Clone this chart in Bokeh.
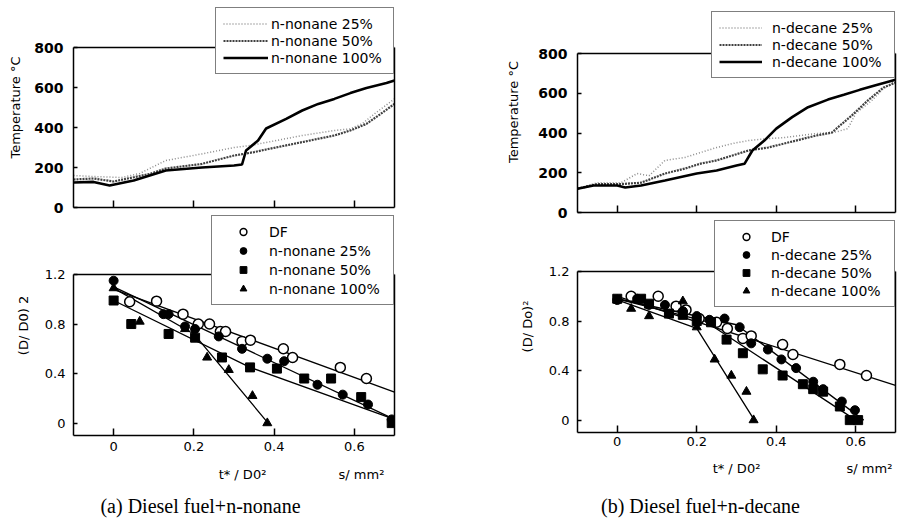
from bokeh.plotting import figure
from bokeh.models import (Legend, LegendItem, FixedTicker, NumeralTickFormatter, Label,
                          LinearAxis, Span, Range1d)
from bokeh.layouts import row, column
from bokeh.embed import file_html
from bokeh.resources import INLINE

# ---------------- data ----------------
# (a) temperature, n-nonane
nonane_25_x = [-0.10, -0.05, 0.02, 0.065, 0.13, 0.22, 0.30, 0.34, 0.38, 0.47, 0.55, 0.59, 0.62, 0.65, 0.70]
nonane_25_T = [160, 155, 150, 170, 235, 268, 300, 310, 325, 360, 385, 393, 420, 468, 543]
nonane_50_x = [-0.10, -0.05, 0.0, 0.09, 0.13, 0.22, 0.30, 0.35, 0.38, 0.47, 0.55, 0.59, 0.63, 0.66, 0.70]
nonane_50_T = [140, 145, 130, 168, 195, 218, 260, 277, 290, 327, 360, 385, 418, 460, 518]
nonane_100_x = [-0.10, -0.05, -0.01, 0.05, 0.13, 0.22, 0.30, 0.32, 0.33, 0.36, 0.38, 0.43, 0.47, 0.51, 0.55, 0.59, 0.63, 0.68, 0.70]
nonane_100_T = [125, 128, 110, 135, 185, 200, 210, 215, 285, 335, 395, 443, 485, 518, 543, 572, 598, 622, 635]

# (b) temperature, n-decane
decane_25_x = [-0.10, -0.05, 0.01, 0.05, 0.08, 0.12, 0.17, 0.21, 0.25, 0.29, 0.33, 0.38, 0.42, 0.46, 0.50, 0.55, 0.58, 0.60, 0.64, 0.67, 0.70]
decane_25_T = [120, 150, 150, 196, 185, 262, 277, 302, 327, 347, 362, 372, 377, 387, 397, 405, 422, 498, 563, 623, 663]
decane_50_x = [-0.10, -0.05, 0.01, 0.06, 0.12, 0.17, 0.21, 0.25, 0.29, 0.33, 0.38, 0.42, 0.46, 0.50, 0.54, 0.56, 0.59, 0.63, 0.67, 0.70]
decane_50_T = [120, 143, 143, 150, 196, 221, 246, 262, 287, 312, 327, 347, 367, 387, 402, 437, 488, 563, 629, 653]
decane_100_x = [-0.10, -0.06, 0.0, 0.02, 0.06, 0.12, 0.20, 0.25, 0.30, 0.32, 0.34, 0.37, 0.40, 0.44, 0.48, 0.53, 0.57, 0.61, 0.65, 0.70]
decane_100_T = [120, 136, 136, 126, 136, 161, 196, 211, 236, 245, 312, 362, 422, 480, 530, 568, 592, 617, 640, 668]

# (a) (D/D0)^2, n-nonane
a_df_x = [0.04, 0.107, 0.173, 0.211, 0.239, 0.266, 0.279, 0.32, 0.341, 0.423, 0.446, 0.565, 0.63]
a_df_y = [0.98, 0.985, 0.88, 0.80, 0.80, 0.74, 0.74, 0.66, 0.67, 0.60, 0.53, 0.45, 0.36]
a_25_x = [0.0, 0.124, 0.137, 0.178, 0.203, 0.262, 0.32, 0.383, 0.425, 0.508, 0.571, 0.634, 0.693]
a_25_y = [1.15, 0.88, 0.88, 0.78, 0.76, 0.70, 0.60, 0.52, 0.50, 0.31, 0.23, 0.15, 0.03]
a_50_x = [0.0, 0.044, 0.137, 0.203, 0.27, 0.34, 0.407, 0.475, 0.542, 0.617, 0.693]
a_50_y = [0.99, 0.80, 0.72, 0.69, 0.53, 0.45, 0.44, 0.36, 0.36, 0.21, 0.0]
a_100_x = [0.0, 0.065, 0.178, 0.233, 0.287, 0.346, 0.383]
a_100_y = [1.09, 0.82, 0.76, 0.53, 0.43, 0.22, 0.0]
a_fit_df_x = [0.0, 0.70]
a_fit_df_y = [1.08, 0.25]
a_fit_25_x = [0.0, 0.70]
a_fit_25_y = [1.10, 0.03]
a_fit_50_x = [0.0, 0.34, 0.70]
a_fit_50_y = [0.99, 0.45, 0.03]
a_fit_100_x = [0.0, 0.20, 0.385]
a_fit_100_y = [1.09, 0.72, 0.0]

# (b) (D/D0)^2, n-decane
b_df_x = [0.035, 0.103, 0.148, 0.173, 0.206, 0.25, 0.277, 0.316, 0.337, 0.416, 0.442, 0.56, 0.627]
b_df_y = [1.0, 1.0, 0.92, 0.89, 0.82, 0.79, 0.74, 0.66, 0.68, 0.61, 0.53, 0.45, 0.36]
b_25_x = [0.0, 0.05, 0.08, 0.12, 0.165, 0.2, 0.232, 0.27, 0.308, 0.337, 0.379, 0.413, 0.45, 0.493, 0.518, 0.565, 0.598]
b_25_y = [0.97, 0.98, 0.93, 0.93, 0.88, 0.84, 0.81, 0.82, 0.75, 0.62, 0.57, 0.49, 0.42, 0.31, 0.25, 0.15, 0.08]
b_50_x = [0.0, 0.06, 0.08, 0.13, 0.165, 0.2, 0.236, 0.275, 0.316, 0.366, 0.416, 0.467, 0.493, 0.518, 0.56, 0.585, 0.606]
b_50_y = [0.98, 0.98, 0.94, 0.86, 0.85, 0.80, 0.79, 0.65, 0.54, 0.41, 0.36, 0.29, 0.25, 0.23, 0.11, 0.0, 0.0]
b_100_x = [0.0, 0.035, 0.08, 0.165, 0.2, 0.245, 0.287, 0.325, 0.343]
b_100_y = [0.97, 0.90, 0.84, 0.96, 0.75, 0.49, 0.36, 0.23, 0.0]
b_fit_df_x = [0.0, 0.70]
b_fit_df_y = [1.0, 0.28]
b_fit_25_x = [0.0, 0.30, 0.62]
b_fit_25_y = [0.98, 0.77, 0.0]
b_fit_50_x = [0.0, 0.22, 0.60]
b_fit_50_y = [0.98, 0.80, 0.0]
b_fit_100_x = [0.0, 0.20, 0.345]
b_fit_100_y = [0.97, 0.74, 0.0]

x_ticks = [0, 0.2, 0.4, 0.6]
T_ticks = [0, 200, 400, 600, 800]
D_ticks = [0, 0.4, 0.8, 1.2]
X_LIM = (-0.1, 0.7)
T_LIM = (0, 800)
D_LIM = (-0.1, 1.2)

FONT = "DejaVu Sans"


def base_fig(fw, fh, ml, mr, mt, mb, lim, top_px):
    # frame is extended upward by top_px pixels so the legend can sit above the axes box
    span = lim[1] - lim[0]
    per_px = span / (fh - top_px)
    yr = Range1d(lim[0], lim[1] + top_px * per_px)
    p = figure(frame_width=fw, frame_height=fh, x_range=Range1d(*X_LIM), y_range=yr,
               output_backend="svg", toolbar_location=None,
               min_border_left=ml, min_border_right=mr, min_border_top=mt, min_border_bottom=mb)
    p.grid.visible = False
    p.outline_line_color = None
    p.background_fill_color = "white"
    p.border_fill_color = "white"
    # right border of the box
    rax = LinearAxis(ticker=FixedTicker(ticks=[]), bounds=lim, axis_line_width=1.5,
                     major_label_text_color=None, major_tick_line_color=None,
                     minor_tick_line_color=None)
    p.add_layout(rax, "right")
    # top border of the box
    p.add_layout(Span(location=lim[1], dimension="width", line_color="black", line_width=1.5))
    for ax in (p.xaxis[0], p.yaxis[0]):
        ax.axis_line_color = "black"
        ax.axis_line_width = 1.5
        ax.major_tick_line_color = "black"
        ax.major_tick_line_width = 1.5
        ax.major_tick_out = 0
        ax.minor_tick_line_color = None
        ax.major_label_text_color = "black"
        ax.major_label_text_font = FONT
        ax.axis_label_text_font = FONT
        ax.axis_label_text_font_style = "normal"
        ax.axis_label_text_font_size = "13px"
        ax.axis_label_text_color = "black"
    p.yaxis[0].bounds = lim
    p.xaxis[0].ticker = FixedTicker(ticks=x_ticks)
    p.xaxis[0].formatter = NumeralTickFormatter(format="0.[0]")
    p.xaxis[0].major_tick_in = 7
    p.yaxis[0].major_tick_in = 4
    return p


def add_legend(p, items, kw):
    leg = Legend(items=items, location="top_right", margin=0, border_line_color="black",
                 border_line_width=1.5, background_fill_color="white", background_fill_alpha=1,
                 label_text_font=FONT, label_text_font_size="14px", label_text_color="black",
                 **kw)
    p.add_layout(leg)


def temp_fig(fw, fh, ml, mr, mt, mb, top_px, label_standoff, series, leg_kw):
    p = base_fig(fw, fh, ml, mr, mt, mb, T_LIM, top_px)
    ya = p.yaxis[0]
    ya.ticker = FixedTicker(ticks=T_ticks)
    ya.major_label_text_font_size = "14px"
    ya.major_label_text_font_style = "bold"
    ya.major_label_standoff = 10
    ya.axis_label = "Temperature °C"
    ya.axis_label_standoff = label_standoff
    xa = p.xaxis[0]
    xa.major_label_text_color = None
    xa.major_label_standoff = 0
    styles = [dict(line_color="#8c8c8c", line_width=1.5, line_dash="1 2"),
              dict(line_color="#404040", line_width=2.2, line_dash="2 1"),
              dict(line_color="black", line_width=2.6)]
    items = []
    for (name, xs, ys), st in zip(series, styles):
        r = p.line(xs, ys, **st)
        items.append(LegendItem(label=name, renderers=[r]))
    add_legend(p, items, leg_kw)
    return p


def d_fig(fw, fh, ml, mr, mt, mb, top_px, ylab, series, fits, leg_kw, xstand):
    p = base_fig(fw, fh, ml, mr, mt, mb, D_LIM, top_px)
    ya = p.yaxis[0]
    ya.ticker = FixedTicker(ticks=D_ticks)
    ya.formatter = NumeralTickFormatter(format="0.[0]")
    ya.major_label_text_font_size = "13px"
    ya.major_label_standoff = 8
    ya.axis_label = ylab
    ya.axis_label_standoff = 11
    xa = p.xaxis[0]
    xa.major_label_text_font_size = "13px"
    xa.major_label_standoff = xstand
    for fx, fy in fits:
        p.line(fx, fy, line_color="black", line_width=1.3)
    marks = [dict(marker="circle", size=10, fill_color="white", line_color="black", line_width=1.5),
             dict(marker="circle", size=9, fill_color="black", line_color="black"),
             dict(marker="square", size=9, fill_color="black", line_color="black"),
             dict(marker="triangle", size=9, fill_color="black", line_color="black")]
    items = []
    for (name, xs, ys), mk in zip(series, marks):
        r = p.scatter(xs, ys, **mk)
        items.append(LegendItem(label=name, renderers=[r]))
    add_legend(p, items, leg_kw)
    return p


def text_fig(fw, fh, ml, mr, x0, x1, y0, y1, texts):
    # frame aligned with the panels above; ranges in page pixels
    p = figure(frame_width=fw, frame_height=fh, x_range=Range1d(x0, x1), y_range=Range1d(y1, y0),
               output_backend="svg", toolbar_location=None, x_axis_location=None,
               y_axis_location=None, min_border_left=ml, min_border_right=mr,
               min_border_top=0, min_border_bottom=0)
    p.grid.visible = False
    p.outline_line_color = None
    p.background_fill_color = "white"
    p.border_fill_color = "white"
    for (txt, tx, ty, font, size) in texts:
        p.add_layout(Label(x=tx, y=ty, text=txt, text_align="center", text_baseline="middle",
                           text_font=font, text_font_size=size, text_color="black"))
    return p


# ---------------- panels ----------------
a_top = temp_fig(321, 200, 73, 66, 7, 8, 40, 8,
                 [("n-nonane 25%", nonane_25_x, nonane_25_T),
                  ("n-nonane 50%", nonane_50_x, nonane_50_T),
                  ("n-nonane 100%", nonane_100_x, nonane_100_T)],
                 dict(glyph_width=45, glyph_height=17, label_height=17, label_width=115,
                      label_standoff=3, padding=7, spacing=0))

a_bot = d_fig(321, 220, 73, 66, 0, 22, 59, "(D/ D0) 2",
              [("DF", a_df_x, a_df_y), ("n-nonane 25%", a_25_x, a_25_y),
               ("n-nonane 50%", a_50_x, a_50_y), ("n-nonane 100%", a_100_x, a_100_y)],
              [(a_fit_df_x, a_fit_df_y), (a_fit_25_x, a_fit_25_y),
               (a_fit_50_x, a_fit_50_y), (a_fit_100_x, a_fit_100_y)],
              dict(glyph_width=48, glyph_height=17, label_height=17, label_width=117,
                   label_standoff=2, padding=7, spacing=2),
              6)

a_txt = text_fig(321, 61, 73, 66, 73, 394, 457, 518,
                 [("t* / D0²", 242, 474, FONT, "13px"),
                  ("s/ mm²", 361, 474, FONT, "13px"),
                  ("(a) Diesel fuel+n-nonane", 200, 505, "Liberation Serif", "20px")])

b_top = temp_fig(318, 201, 117, 2, 11, 8, 42, 14,
                 [("n-decane 25%", decane_25_x, decane_25_T),
                  ("n-decane 50%", decane_50_x, decane_50_T),
                  ("n-decane 100%", decane_100_x, decane_100_T)],
                 dict(glyph_width=43, glyph_height=17, label_height=17, label_width=115,
                      label_standoff=10, padding=7, spacing=0))

b_bot = d_fig(318, 212, 117, 2, 0, 22, 51, "(D/ Do)²",
              [("DF", b_df_x, b_df_y), ("n-decane 25%", b_25_x, b_25_y),
               ("n-decane 50%", b_50_x, b_50_y), ("n-decane 100%", b_100_x, b_100_y)],
              [(b_fit_df_x, b_fit_df_y), (b_fit_25_x, b_fit_25_y),
               (b_fit_50_x, b_fit_50_y), (b_fit_100_x, b_fit_100_y)],
              dict(glyph_width=48, glyph_height=17, label_height=17, label_width=116,
                   label_standoff=1, padding=7, spacing=1),
              4)

b_txt = text_fig(318, 64, 117, 2, 577, 895, 454, 518,
                 [("t* / D0²", 736, 468, FONT, "13px"),
                  ("s/ mm²", 869, 468, FONT, "13px"),
                  ("(b) Diesel fuel+n-decane", 700, 505, "Liberation Serif", "20px")])

layout = row(column(a_top, a_bot, a_txt), column(b_top, b_bot, b_txt))

open("out.html", "w").write(file_html(layout, INLINE))
